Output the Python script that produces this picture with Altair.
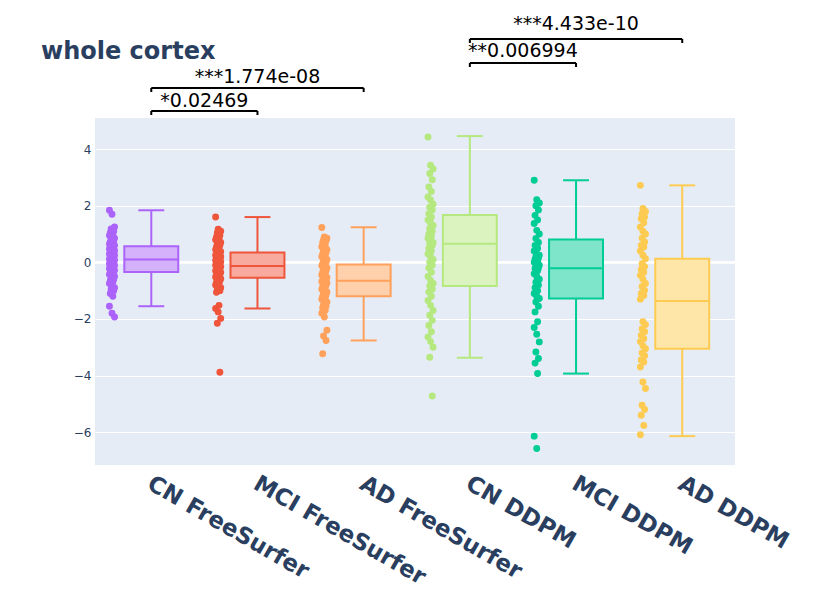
import json
import altair as alt
import pandas as pd

# ---------------- data ----------------
GROUPS = ["CN FreeSurfer", "MCI FreeSurfer", "AD FreeSurfer", "CN DDPM", "MCI DDPM", "AD DDPM"]
COLORS = ["#AB63FA", "#EF553B", "#FFA15A", "#B6E880", "#00CC96", "#FECB52"]
TITLE = "whole cortex"

cn_fs = [1.84, 1.70, 1.25, 1.18, 1.1, 1.05, 1.0, 0.95, 0.9, 0.85, 0.8, 0.76, 0.72, 0.68, 0.65,
         0.62, 0.6, 0.58, 0.55, 0.52, 0.5, 0.47, 0.45, 0.42, 0.4, 0.37, 0.35, 0.32, 0.3, 0.28,
         0.25, 0.22, 0.2, 0.18, 0.15, 0.12, 0.1, 0.08, 0.05, 0.02, 0.0, -0.03, -0.05, -0.08,
         -0.1, -0.13, -0.15, -0.18, -0.2, -0.22, -0.25, -0.28, -0.3, -0.33, -0.36, -0.4, -0.43,
         -0.45, -0.5, -0.55, -0.6, -0.65, -0.7, -0.75, -0.8, -0.9, -0.95, -1.0, -1.1, -1.2,
         -1.55, -1.8, -1.93]
mci_fs = [1.6, 1.17, 1.1, 1.05, 0.95, 0.9, 0.85, 0.8, 0.75, 0.7, 0.65, 0.6, 0.55, 0.5, 0.45,
          0.42, 0.38, 0.35, 0.32, 0.3, 0.27, 0.25, 0.22, 0.2, 0.17, 0.15, 0.12, 0.1, 0.07, 0.05,
          0.02, 0.0, -0.03, -0.05, -0.08, -0.1, -0.13, -0.15, -0.18, -0.2, -0.23, -0.25, -0.3,
          -0.33, -0.35, -0.4, -0.42, -0.45, -0.5, -0.52, -0.55, -0.58, -0.6, -0.65, -0.7, -0.75,
          -0.8, -0.85, -0.9, -0.95, -1.0, -1.06, -1.52, -1.63, -1.75, -1.98, -2.15, -3.88]
ad_fs = [1.23, 0.9, 0.85, 0.8, 0.75, 0.7, 0.6, 0.55, 0.5, 0.45, 0.4, 0.35, 0.3, 0.25, 0.2, 0.15,
         0.1, 0.05, 0.0, -0.05, -0.08, -0.12, -0.15, -0.2, -0.25, -0.3, -0.35, -0.4, -0.45,
         -0.5, -0.53, -0.55, -0.6, -0.63, -0.65, -0.68, -0.7, -0.73, -0.75, -0.8, -0.85, -0.9,
         -0.95, -1.0, -1.05, -1.1, -1.15, -1.2, -1.25, -1.3, -1.35, -1.4, -1.5, -1.55, -1.6,
         -1.7, -1.8, -1.93, -2.4, -2.6, -2.76, -3.23]
cn_ddpm = [4.43, 3.43, 3.3, 3.14, 2.92, 2.66, 2.5, 2.31, 2.2, 2.05, 1.95, 1.85, 1.72, 1.6, 1.5,
           1.4, 1.3, 1.2, 1.1, 1.0, 0.92, 0.85, 0.78, 0.7, 0.66, 0.6, 0.5, 0.4, 0.3, 0.2, 0.1, 0.0,
           -0.1, -0.2, -0.35, -0.5, -0.64, -0.75, -0.84, -0.95, -1.05, -1.2, -1.35, -1.52, -1.7,
           -1.87, -2.05, -2.23, -2.45, -2.64, -2.8, -3.0, -3.35, -4.72]
mci_ddpm = [2.9, 2.21, 2.1, 2.0, 1.85, 1.66, 1.5, 1.37, 1.13, 1.0, 0.84, 0.7, 0.6, 0.5, 0.4, 0.3,
            0.25, 0.2, 0.15, 0.1, 0.05, 0.0, -0.05, -0.1, -0.15, -0.2, -0.22, -0.3, -0.4, -0.5,
            -0.6, -0.7, -0.8, -0.9, -1.0, -1.1, -1.2, -1.28, -1.4, -1.55, -1.75, -2.1, -2.3,
            -2.54, -2.81, -3.17, -3.4, -3.56, -3.93, -6.14, -6.58]
ad_ddpm = [2.72, 1.9, 1.8, 1.72, 1.6, 1.54, 1.4, 1.25, 1.1, 1.0, 0.85, 0.72, 0.6, 0.54, 0.4, 0.25,
           0.13, -0.05, -0.15, -0.25, -0.35, -0.46, -0.6, -0.75, -0.85, -0.99, -1.1, -1.17, -1.3,
           -2.1, -2.2, -2.35, -2.45, -2.58, -2.7, -2.8, -2.95, -3.05, -3.2, -3.3, -3.45, -3.52,
           -3.7, -4.23, -4.46, -5.05, -5.2, -5.4, -5.76, -6.09]
SERIES = [cn_fs, mci_fs, ad_fs, cn_ddpm, mci_ddpm, ad_ddpm]

# box statistics
upper = [1.84, 1.6, 1.24, 4.46, 2.9, 2.72]
q3 = [0.57, 0.35, -0.08, 1.67, 0.81, 0.13]
median = [0.1, -0.13, -0.65, 0.66, -0.21, -1.37]
q1 = [-0.34, -0.54, -1.2, -0.84, -1.28, -3.05]
lower = [-1.55, -1.63, -2.76, -3.37, -3.93, -6.14]

# significance comparisons
comp_a = [0, 0, 3, 3]
comp_b = [1, 2, 4, 5]
comp_label = ["*0.02469", "***1.774e-08", "**0.006994", "***4.433e-10"]

# ---------------- tables ----------------
pts = pd.DataFrame([
    {"group": GROUPS[g], "gi": g, "k": k, "value": v}
    for g, vals in enumerate(SERIES) for k, v in enumerate(vals)
])
stats = pd.DataFrame({"group": GROUPS, "gi": list(range(len(GROUPS))), "upper": upper,
                      "q3": q3, "median": median, "q1": q1, "lower": lower})
comps = pd.DataFrame({"a": comp_a, "b": comp_b, "label": comp_label})

# ---------------- style ----------------
FONT = "DejaVu Sans"
TXT = "#2a3f5f"
HALF_BOX = 0.254
HALF_CAP = 0.122
PT_OFF = -0.37

X_SCALE = alt.Scale(domain=[-0.53, 5.497], nice=False, zero=False)
Y_SCALE = alt.Scale(domain=[-7.16, 5.1], nice=False, zero=False)
X_AXIS = alt.Axis(values=list(range(len(GROUPS))), labelExpr=json.dumps(GROUPS) + "[datum.value]",
                  title=None, grid=False, ticks=False, domain=False, labelAngle=30,
                  labelAlign="left", labelBaseline="top", labelFont=FONT, labelFontWeight="bold",
                  labelFontSize=23, labelColor=TXT, labelPadding=7, labelOffset=3,
                  labelOverlap=False, labelFlush=False, labelBound=False, labelLimit=0)
Y_AXIS = alt.Axis(values=[-6, -4, -2, 0, 2, 4], title=None, grid=True, gridColor="white",
                  gridWidth=1, ticks=False, domain=False, labelFont=FONT, labelFontSize=12,
                  labelColor=TXT, labelPadding=4)
COLOR = alt.Color("group:N", scale=alt.Scale(domain=GROUPS, range=COLORS), legend=None)
STROKE = alt.Stroke("group:N", scale=alt.Scale(domain=GROUPS, range=COLORS), legend=None)

zero = alt.Chart(stats).mark_rule(color="white", strokeWidth=2).encode(
    y=alt.Y(datum=0, scale=Y_SCALE, axis=Y_AXIS)
)

points = alt.Chart(pts).transform_calculate(
    px=f"datum.gi + ({PT_OFF}) + (((datum.k * 3) % 7) - 3) * 0.008"
).mark_circle(size=48, opacity=1).encode(
    x=alt.X("px:Q", scale=X_SCALE, axis=X_AXIS),
    y=alt.Y("value:Q", scale=Y_SCALE, axis=Y_AXIS),
    color=COLOR,
)

base = alt.Chart(stats).transform_calculate(
    xlo=f"datum.gi - {HALF_BOX}", xhi=f"datum.gi + {HALF_BOX}",
    clo=f"datum.gi - {HALF_CAP}", chi=f"datum.gi + {HALF_CAP}",
)

box_under = base.mark_rect(color="white").encode(
    x=alt.X("xlo:Q", scale=X_SCALE, axis=X_AXIS), x2="xhi:Q",
    y=alt.Y("q1:Q", scale=Y_SCALE, axis=Y_AXIS), y2="q3:Q",
)
box = base.mark_rect(fillOpacity=0.5, strokeWidth=2).encode(
    x=alt.X("xlo:Q", scale=X_SCALE, axis=X_AXIS), x2="xhi:Q",
    y=alt.Y("q1:Q", scale=Y_SCALE, axis=Y_AXIS), y2="q3:Q",
    fill=alt.Fill("group:N", scale=alt.Scale(domain=GROUPS, range=COLORS), legend=None),
    stroke=STROKE,
)
med = base.mark_rule(strokeWidth=2).encode(
    x=alt.X("xlo:Q", scale=X_SCALE, axis=X_AXIS), x2="xhi:Q",
    y=alt.Y("median:Q", scale=Y_SCALE, axis=Y_AXIS), color=COLOR,
)
wh_up = base.mark_rule(strokeWidth=2).encode(
    x=alt.X("gi:Q", scale=X_SCALE, axis=X_AXIS),
    y=alt.Y("q3:Q", scale=Y_SCALE, axis=Y_AXIS), y2="upper:Q", color=COLOR,
)
wh_lo = base.mark_rule(strokeWidth=2).encode(
    x=alt.X("gi:Q", scale=X_SCALE, axis=X_AXIS),
    y=alt.Y("lower:Q", scale=Y_SCALE, axis=Y_AXIS), y2="q1:Q", color=COLOR,
)
cap_up = base.mark_rule(strokeWidth=2).encode(
    x=alt.X("clo:Q", scale=X_SCALE, axis=X_AXIS), x2="chi:Q",
    y=alt.Y("upper:Q", scale=Y_SCALE, axis=Y_AXIS), color=COLOR,
)
cap_lo = base.mark_rule(strokeWidth=2).encode(
    x=alt.X("clo:Q", scale=X_SCALE, axis=X_AXIS), x2="chi:Q",
    y=alt.Y("lower:Q", scale=Y_SCALE, axis=Y_AXIS), color=COLOR,
)

layers = [zero, box_under, box, med, wh_up, wh_lo, cap_up, cap_lo, points]

# brackets (pixel offsets above the plot top)
LEVEL_Y = [-7, -30, -55, -79]
TEXT_GAP = [4, 5, 6, 9]
for idx in range(len(comp_label)):
    row = comps.iloc[[idx]]
    ly = LEVEL_Y[idx]
    cb = alt.Chart(row).transform_calculate(mid="(datum.a + datum.b) / 2")
    layers.append(cb.mark_rule(color="black", strokeWidth=2).encode(
        x=alt.X("a:Q", scale=X_SCALE, axis=X_AXIS), x2="b:Q", y=alt.value(ly)))
    layers.append(cb.mark_rule(color="black", strokeWidth=2).encode(
        x=alt.X("a:Q", scale=X_SCALE, axis=X_AXIS), y=alt.value(ly), y2=alt.value(ly + 4)))
    layers.append(cb.mark_rule(color="black", strokeWidth=2).encode(
        x=alt.X("b:Q", scale=X_SCALE, axis=X_AXIS), y=alt.value(ly), y2=alt.value(ly + 4)))
    layers.append(cb.mark_text(font=FONT, fontSize=19, color="black", align="center",
                               baseline="alphabetic").encode(
        x=alt.X("mid:Q", scale=X_SCALE, axis=X_AXIS), y=alt.value(ly - TEXT_GAP[idx]),
        text="label:N"))

title = alt.Chart(pd.DataFrame({"t": [TITLE]})).mark_text(
    font=FONT, fontSize=24, fontWeight="bold", color=TXT, align="left", baseline="alphabetic"
).encode(x=alt.value(-54), y=alt.value(-59), text="t:N")
layers.append(title)

chart = alt.layer(*layers).properties(
    width=640, height=347, autosize="none", background="white",
    padding={"left": 87, "top": 110, "right": 85, "bottom": 118},
).configure_view(fill="#E5ECF6", stroke=None)

chart.save("out.html", embed_options={"renderer": "svg", "actions": False})
